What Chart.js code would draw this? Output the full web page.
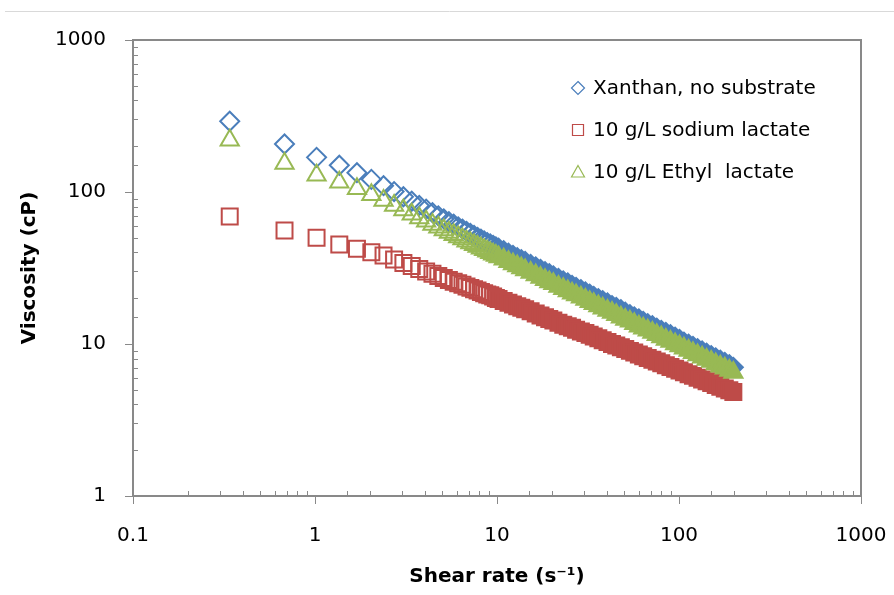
<!DOCTYPE html>
<html><head><meta charset="utf-8">
<script src="https://cdn.jsdelivr.net/npm/chart.js@4.4.1/dist/chart.umd.min.js"></script>
<style>html,body{margin:0;padding:0;background:#fff}canvas{display:block}</style>
</head><body>
<canvas id="c" width="894" height="595"></canvas>
<script>
// Shear rate (1/s)
const shearRate = [0.34,0.68,1.02,1.36,1.70,2.04,2.38,2.72,3.06,3.40,3.74,4.08,4.42,4.76,5.10,5.44,5.78,6.12,6.46,6.80,7.14,7.48,7.82,8.16,8.50,8.84,9.18,9.52,9.86,
10.2,10.88,11.56,12.24,12.92,13.6,14.28,15.3,16.32,17.34,18.36,19.38,20.4,21.76,23.12,24.48,25.84,27.2,28.9,30.6,32.3,34.0,36.04,38.08,40.46,42.84,45.22,47.94,50.66,53.72,56.78,60.18,63.58,67.32,71.4,75.48,79.9,84.66,89.76,95.2,100.64,106.42,112.88,119.34,126.48,133.96,141.78,150.28,159.12,168.64,178.5,189.04,198.9];
// Viscosity (cP)
const viscXanthan = [292,207,169,150,134,121,110,100.7,93.1,86.9,81.6,77.1,73.1,69.7,66.5,63.8,61.4,59.0,57.0,55.1,53.3,51.8,50.2,48.9,47.6,46.5,45.5,44.6,43.6,
42.7,41.1,39.6,38.3,37.0,35.9,34.9,33.4,32.2,31.0,29.9,29.0,28.1,27.0,26.0,25.2,24.3,23.6,22.8,22.0,21.3,20.6,19.9,19.3,18.6,17.9,17.4,16.8,16.2,15.6,15.1,14.6,14.1,13.6,13.2,12.7,12.3,11.9,11.5,11.1,10.7,10.3,9.98,9.65,9.32,9.00,8.70,8.39,8.11,7.83,7.56,7.31,7.02];
const viscSodiumLactate = [69,55.9,50.0,45.2,42.4,40.2,38.2,36.0,34.1,32.6,31.2,30.0,29.0,28.0,27.2,26.4,25.7,25.1,24.5,23.9,23.4,22.9,22.5,22.0,21.6,21.2,20.9,20.5,20.1,
19.8,19.2,18.7,18.2,17.7,17.3,16.9,16.4,15.9,15.4,15.0,14.6,14.3,13.8,13.4,13.1,12.8,12.4,12.1,11.8,11.5,11.2,10.9,10.6,10.3,10.0,9.78,9.51,9.26,9.01,8.78,8.54,8.32,8.09,7.87,7.66,7.46,7.26,7.06,6.87,6.69,6.51,6.33,6.17,6.00,5.84,5.68,5.53,5.38,5.23,5.09,4.96,4.84];
const viscEthylLactate = [219,154,129,116,105,96,88,81.5,76.0,71.4,67.5,64.1,61.2,58.6,56.3,54.2,52.3,50.5,49.0,47.5,46.2,45.0,43.8,42.7,41.7,40.7,39.8,39.0,38.2,
37.4,36.1,34.8,33.6,32.6,31.6,30.7,29.5,28.4,27.4,26.5,25.6,24.9,23.9,23.1,22.3,21.6,21.0,20.3,19.6,19.0,18.4,17.8,17.2,16.6,16.1,15.6,15.0,14.5,14.1,13.6,13.1,12.7,12.3,11.9,11.5,11.1,10.7,10.4,10.0,9.70,9.38,9.06,8.77,8.48,8.19,7.92,7.66,7.40,7.15,6.92,6.69,6.49];
const seriesNames = ['Xanthan, no substrate','10 g/L sodium lactate','10 g/L Ethyl  lactate'];
const xTickLabels = ['0.1','1','10','100','1000'];
const yTickLabels = ['1','10','100','1000'];
const xTitle = 'Shear rate (s\u207B\u00B9)';
const yTitle = 'Viscosity (cP)';

const BLUE = '#4A7EBB', RED = '#BE4B48', GREEN = '#98B954';
const AXIS = '#898989';
const FONT = 'DejaVu Sans';

const toPts = ys => shearRate.map((x, i) => ({x: x, y: ys[i]}));
// markers in the dense part of the curve overlap into a solid band
const fillDense = col => shearRate.map(x => x >= 10 ? col : 'rgba(255,255,255,0)');
const fmt = v => String(+Number(v).toPrecision(6));
const isPow10 = v => { const l = Math.log10(v); return Math.abs(l - Math.round(l)) < 1e-6; };

const deco = {
  id: 'deco',
  afterDraw(chart) {
    const ctx = chart.ctx;
    const {left, right, top, bottom} = chart.chartArea;
    const xs = chart.scales.x, ys = chart.scales.y;
    ctx.save();
    ctx.strokeStyle = '#d9d9d9'; ctx.lineWidth = 1;
    ctx.beginPath(); ctx.moveTo(5, 11.5); ctx.lineTo(894, 11.5); ctx.stroke();
    ctx.strokeStyle = AXIS; ctx.lineWidth = 2;
    ctx.strokeRect(left, top, right - left, bottom - top);
    ctx.lineWidth = 1;
    ctx.beginPath();
    xs.ticks.forEach(t => {
      const px = Math.round(xs.getPixelForValue(t.value)) + 0.5;
      if (isPow10(t.value)) { ctx.moveTo(px, bottom); ctx.lineTo(px, bottom + 8); }
      else { ctx.moveTo(px, bottom); ctx.lineTo(px, bottom - 5); }
    });
    ys.ticks.forEach(t => {
      const py = Math.round(ys.getPixelForValue(t.value)) + 0.5;
      if (isPow10(t.value)) { ctx.moveTo(left, py); ctx.lineTo(left - 8, py); }
      else { ctx.moveTo(left, py); ctx.lineTo(left + 5, py); }
    });
    ctx.stroke();
    // x tick labels, placed by the x scale
    ctx.fillStyle = '#000';
    ctx.font = '20px "' + FONT + '"';
    ctx.textAlign = 'center';
    ctx.textBaseline = 'middle';
    xTickLabels.forEach(s => ctx.fillText(s, xs.getPixelForValue(Number(s)), bottom + 40));
    // legend
    const lx = 578, ly0 = 88, step = 42;
    const cols = [BLUE, RED, GREEN];
    ctx.lineWidth = 1.2;
    cols.forEach((col, i) => {
      const cy = ly0 + i * step;
      ctx.strokeStyle = col;
      ctx.beginPath();
      if (i === 0) { ctx.moveTo(lx, cy - 6.5); ctx.lineTo(lx + 6.5, cy); ctx.lineTo(lx, cy + 6.5); ctx.lineTo(lx - 6.5, cy); ctx.closePath(); }
      else if (i === 1) { ctx.rect(lx - 5.5, cy - 5.5, 11, 11); }
      else { ctx.moveTo(lx, cy - 6.5); ctx.lineTo(lx + 6.5, cy + 5); ctx.lineTo(lx - 6.5, cy + 5); ctx.closePath(); }
      ctx.stroke();
      ctx.fillStyle = '#000';
      ctx.textBaseline = 'middle';
      ctx.textAlign = 'left';
      ctx.fillText(seriesNames[i], 593, cy + 1);
    });
    ctx.restore();
  }
};

new Chart(document.getElementById('c'), {
  type: 'scatter',
  data: {
    datasets: [
      {label: seriesNames[0], data: toPts(viscXanthan), pointStyle: 'rectRot', pointRadius: 9.5,
       pointBorderColor: BLUE, pointBorderWidth: 2, pointBackgroundColor: fillDense(BLUE), order: 2},
      {label: seriesNames[1], data: toPts(viscSodiumLactate), pointStyle: 'rect', pointRadius: 11.3,
       pointBorderColor: RED, pointBorderWidth: 2, pointBackgroundColor: fillDense(RED), order: 1},
      {label: seriesNames[2], data: toPts(viscEthylLactate), pointStyle: 'triangle', pointRadius: 10.5,
       pointBorderColor: GREEN, pointBorderWidth: 2, pointBackgroundColor: fillDense(GREEN), order: 0}
    ]
  },
  options: {
    responsive: false, animation: false, events: [], devicePixelRatio: 1,
    layout: {autoPadding: false, padding: {left: 0, top: 40, right: 33, bottom: 0}},
    plugins: {legend: {display: false}, tooltip: {enabled: false}},
    scales: {
      x: {
        type: 'logarithmic', min: 0.1, max: 1000, position: 'bottom',
        grid: {display: false, drawTicks: false}, border: {display: false},
        ticks: {display: false, autoSkip: false, maxRotation: 0, minRotation: 0},
        title: {display: true, text: xTitle, color: '#000', font: {family: FONT, size: 20, weight: 'bold'}, padding: {top: 0, bottom: 6}},
        afterFit: s => { s.height = 99; }
      },
      y: {
        type: 'logarithmic', min: 1, max: 1000, position: 'left',
        grid: {display: false, drawTicks: false}, border: {display: false},
        ticks: {autoSkip: false, padding: 27, color: '#000',
          font: {family: FONT, size: 20},
          callback: v => { const s = fmt(v); return yTickLabels.includes(s) ? s : ''; }},
        title: {display: true, text: yTitle, color: '#000', font: {family: FONT, size: 20, weight: 'bold'}, padding: {top: 18, bottom: 0}},
        afterFit: s => { s.width = 133; }
      }
    }
  },
  plugins: [deco]
});
</script>
</body></html>
